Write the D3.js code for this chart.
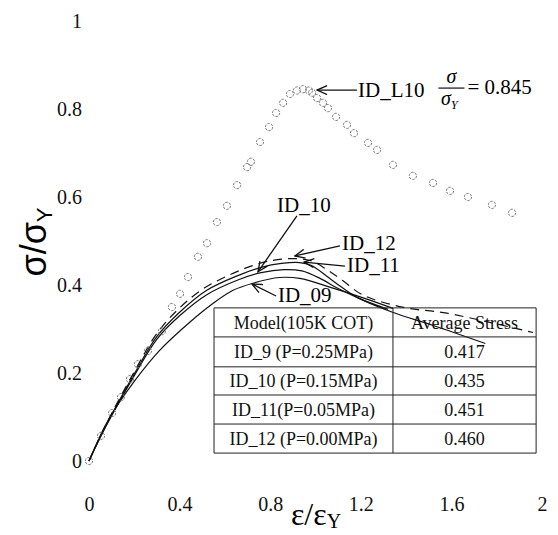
<!DOCTYPE html>
<html>
<head>
<meta charset="utf-8">
<script src="https://cdnjs.cloudflare.com/ajax/libs/d3/7.8.5/d3.min.js"></script>
<style>
    body { margin: 0; background: #fff; }
</style>
</head>
<body>
<div id="stress_graph"></div>
<script>

// ID_L10 circles (strain ratio / stress ratio)
var strainL10 = [0, 0.053, 0.102, 0.141, 0.181, 0.216, 0.260, 0.322, 0.366, 0.402, 0.437, 0.481,
    0.521, 0.565, 0.609, 0.654, 0.698, 0.715, 0.755, 0.795, 0.826, 0.857, 0.887, 0.918, 0.945,
    0.971, 0.985, 1.007, 1.033, 1.055, 1.091, 1.139, 1.170, 1.232, 1.272, 1.342, 1.430, 1.519,
    1.594, 1.673, 1.779, 1.868];
var stressL10 = [0, 0.057, 0.109, 0.145, 0.186, 0.220, 0.250, 0.295, 0.350, 0.380, 0.418, 0.464,
    0.495, 0.543, 0.580, 0.627, 0.668, 0.680, 0.725, 0.759, 0.791, 0.814, 0.834, 0.842, 0.845,
    0.842, 0.837, 0.825, 0.814, 0.802, 0.782, 0.764, 0.745, 0.723, 0.707, 0.673, 0.648, 0.632,
    0.614, 0.600, 0.582, 0.564];

// ID_09
var strain09 = [0, 0.084, 0.203, 0.313, 0.446, 0.547, 0.636, 0.724, 0.84, 0.93, 1.077, 1.227, 1.342];
var stress09 = [0, 0.092, 0.183, 0.252, 0.316, 0.358, 0.388, 0.404, 0.417, 0.415, 0.393, 0.368, 0.347];

// ID_10
var strain10 = [0, 0.05, 0.1, 0.2, 0.3, 0.4, 0.52, 0.66, 0.76, 0.86, 0.94, 1.02, 1.1, 1.2, 1.32];
var stress10 = [0, 0.054, 0.103, 0.194, 0.277, 0.330, 0.378, 0.412, 0.428, 0.435, 0.432, 0.415, 0.392, 0.368, 0.345];

// ID_11
var strain11 = [0, 0.05, 0.1, 0.2, 0.3, 0.4, 0.52, 0.66, 0.76, 0.85, 0.93, 0.98, 1.05, 1.11, 1.18, 1.34, 1.52, 1.75];
var stress11 = [0, 0.055, 0.105, 0.198, 0.283, 0.338, 0.388, 0.422, 0.440, 0.449, 0.451, 0.445, 0.420, 0.397, 0.373, 0.338, 0.308, 0.267];

// ID_12 (dashed)
var strain12 = [0, 0.05, 0.1, 0.2, 0.3, 0.4, 0.5, 0.6, 0.7, 0.8, 0.9, 0.98, 1.05, 1.12, 1.21, 1.39, 1.58, 1.96];
var stress12 = [0, 0.056, 0.108, 0.203, 0.290, 0.348, 0.390, 0.418, 0.440, 0.455, 0.460, 0.455, 0.435, 0.410, 0.377, 0.349, 0.336, 0.292];

var xTicks = [0, 0.4, 0.8, 1.2, 1.6, 2];
var yTicks = [0, 0.2, 0.4, 0.6, 0.8, 1];

// Table of average stress
var tableHeader = ["Model(105K COT)", "Average Stress"];
var tableModels = ["ID_9 (P=0.25MPa)", "ID_10 (P=0.15MPa)", "ID_11(P=0.05MPa)", "ID_12 (P=0.00MPa)"];
var tableStress = ["0.417", "0.435", "0.451", "0.460"];

// Curve labels: [label, tipX, tipY, tailX, tailY, textX, textY]
var curveLabels = [
    ["ID_10", 0.746, 0.430, 0.918, 0.557, 0.83, 0.566],
    ["ID_12", 0.909, 0.466, 1.108, 0.489, 1.117, 0.480],
    ["ID_11", 0.949, 0.452, 1.130, 0.443, 1.139, 0.430],
    ["ID_09", 0.720, 0.402, 0.826, 0.375, 0.834, 0.361]
];

var totalWidth = 558, totalHeight = 535;
var serif = "'Liberation Serif', 'DejaVu Serif', 'Times New Roman', serif";

// Scales: x 0..2, y 0..1
var xScale = d3.scaleLinear().domain([0, 2]).range([89, 542]);
var yScale = d3.scaleLinear().domain([0, 1]).range([461, 21]);

var svg = d3.select("#stress_graph")
    .append("svg")
    .attr("width", totalWidth)
    .attr("height", totalHeight);

// Open arrow head, tip at the end of the line
svg.append("defs").append("marker")
    .attr("id", "openArrow")
    .attr("viewBox", "0 0 12 10")
    .attr("refX", 11)
    .attr("refY", 5)
    .attr("markerWidth", 12)
    .attr("markerHeight", 10)
    .attr("markerUnits", "userSpaceOnUse")
    .attr("orient", "auto")
    .append("path")
    .attr("d", "M1,0.5 L11,5 L1,9.5")
    .attr("fill", "none")
    .attr("stroke", "#111")
    .attr("stroke-width", 1.3);

/**
 * Axes (only tick labels are visible)
 */
var xAxis = svg.append("g")
    .attr("class", "x axis")
    .attr("transform", "translate(0," + 494 + ")")
    .call(d3.axisBottom(xScale).tickValues(xTicks).tickSize(0).tickFormat(d3.format("~g")));
xAxis.select(".domain").remove();
xAxis.selectAll("text")
    .style("font-family", serif)
    .style("font-size", "20px")
    .style("fill", "#111")
    .attr("dy", "0.71em");

var yAxis = svg.append("g")
    .attr("class", "y axis")
    .attr("transform", "translate(" + 82 + ",0)")
    .call(d3.axisLeft(yScale).tickValues(yTicks).tickSize(0).tickFormat(d3.format("~g")));
yAxis.select(".domain").remove();
yAxis.selectAll("text")
    .style("font-family", serif)
    .style("font-size", "20px")
    .style("fill", "#111")
    .attr("x", 0);

// Axis titles
var xTitle = svg.append("text")
    .attr("x", 316)
    .attr("y", 525)
    .attr("text-anchor", "middle")
    .style("font-family", serif)
    .style("font-size", "32px");
xTitle.append("tspan").text("ε/ε");
xTitle.append("tspan").attr("dy", 3).style("font-size", "20px").text("Y");

var yTitle = svg.append("text")
    .attr("transform", "translate(46,242)rotate(-90)")
    .attr("text-anchor", "middle")
    .style("font-family", "'Liberation Sans', Arial, sans-serif")
    .style("font-size", "36px");
yTitle.append("tspan").text("σ/σ");
yTitle.append("tspan").attr("dy", 6).style("font-size", "22px").text("Y");

/**
 * Curves
 */
var line = d3.line()
    .x(function (d) { return xScale(d[0]); })
    .y(function (d) { return yScale(d[1]); })
    .curve(d3.curveCatmullRom);

function pairs(xs, ys) {
    return xs.map(function (x, i) { return [x, ys[i]]; });
}

var series = [
    { xs: strain09, ys: stress09, dash: null },
    { xs: strain10, ys: stress10, dash: null },
    { xs: strain11, ys: stress11, dash: null },
    { xs: strain12, ys: stress12, dash: "9,6" }
];

series.forEach(function (s) {
    svg.append("path")
        .datum(pairs(s.xs, s.ys))
        .attr("d", line)
        .attr("fill", "none")
        .attr("stroke", "#111")
        .attr("stroke-width", 1.2)
        .attr("stroke-dasharray", s.dash);
});

// ID_L10 circles
svg.selectAll("circle.l10")
    .data(pairs(strainL10, stressL10))
    .enter()
    .append("circle")
    .attr("class", "l10")
    .attr("cx", function (d) { return xScale(d[0]); })
    .attr("cy", function (d) { return yScale(d[1]); })
    .attr("r", 3.6)
    .attr("fill", "none")
    .attr("stroke", "#777")
    .attr("stroke-width", 1)
    .attr("stroke-dasharray", "2.5,1.2");

/**
 * Table
 */
var colX = [0.552, 1.342, 1.974];
var rowY = [0.348, 0.282, 0.214, 0.150, 0.084, 0.018];

var table = svg.append("g").attr("class", "table");

rowY.forEach(function (v) {
    table.append("line")
        .attr("x1", xScale(colX[0])).attr("x2", xScale(colX[2]))
        .attr("y1", yScale(v)).attr("y2", yScale(v))
        .attr("stroke", "#222").attr("stroke-width", 1);
});
colX.forEach(function (v) {
    table.append("line")
        .attr("x1", xScale(v)).attr("x2", xScale(v))
        .attr("y1", yScale(rowY[0])).attr("y2", yScale(rowY[5]))
        .attr("stroke", "#222").attr("stroke-width", 1);
});

var tableRows = [tableHeader].concat(tableModels.map(function (m, i) { return [m, tableStress[i]]; }));
tableRows.forEach(function (row, i) {
    var yMid = (yScale(rowY[i]) + yScale(rowY[i + 1])) / 2;
    row.forEach(function (cell, j) {
        table.append("text")
            .attr("x", (xScale(colX[j]) + xScale(colX[j + 1])) / 2)
            .attr("y", yMid)
            .attr("dy", "0.35em")
            .attr("text-anchor", "middle")
            .style("font-family", serif)
            .style("font-size", "18px")
            .style("fill", "#111")
            .text(cell);
    });
});

/**
 * Annotations
 */
curveLabels.forEach(function (c) {
    svg.append("line")
        .attr("x1", xScale(c[3])).attr("y1", yScale(c[4]))
        .attr("x2", xScale(c[1])).attr("y2", yScale(c[2]))
        .attr("stroke", "#111")
        .attr("stroke-width", 1.3)
        .attr("marker-end", "url(#openArrow)");
    svg.append("text")
        .attr("x", xScale(c[5]))
        .attr("y", yScale(c[6]))
        .style("font-family", serif)
        .style("font-size", "21px")
        .text(c[0]);
});

// ID_L10 peak label
var peakX = 1.007, peakY = 0.843;
svg.append("line")
    .attr("x1", xScale(1.183)).attr("y1", yScale(peakY))
    .attr("x2", xScale(peakX)).attr("y2", yScale(peakY))
    .attr("stroke", "#111")
    .attr("stroke-width", 1.3)
    .attr("marker-end", "url(#openArrow)");

svg.append("text")
    .attr("x", xScale(1.188))
    .attr("y", yScale(peakY) + 7)
    .style("font-family", serif)
    .style("font-size", "21px")
    .text("ID_L10");

var fracX = xScale(1.6);
svg.append("text")
    .attr("x", fracX)
    .attr("y", yScale(peakY) - 7)
    .attr("text-anchor", "middle")
    .style("font-family", serif)
    .style("font-size", "20px")
    .style("font-style", "italic")
    .text("σ");
svg.append("line")
    .attr("x1", fracX - 13).attr("x2", fracX + 13)
    .attr("y1", yScale(peakY) - 2).attr("y2", yScale(peakY) - 2)
    .attr("stroke", "#111").attr("stroke-width", 1.2);
var den = svg.append("text")
    .attr("x", fracX - 2)
    .attr("y", yScale(peakY) + 15)
    .attr("text-anchor", "middle")
    .style("font-family", serif)
    .style("font-size", "20px")
    .style("font-style", "italic");
den.append("tspan").text("σ");
den.append("tspan").attr("dy", 4).style("font-size", "12px").text("Y");

svg.append("text")
    .attr("x", fracX + 16)
    .attr("y", yScale(peakY) + 4)
    .style("font-family", serif)
    .style("font-size", "21px")
    .text("= 0.845");

</script>
</body>
</html>
